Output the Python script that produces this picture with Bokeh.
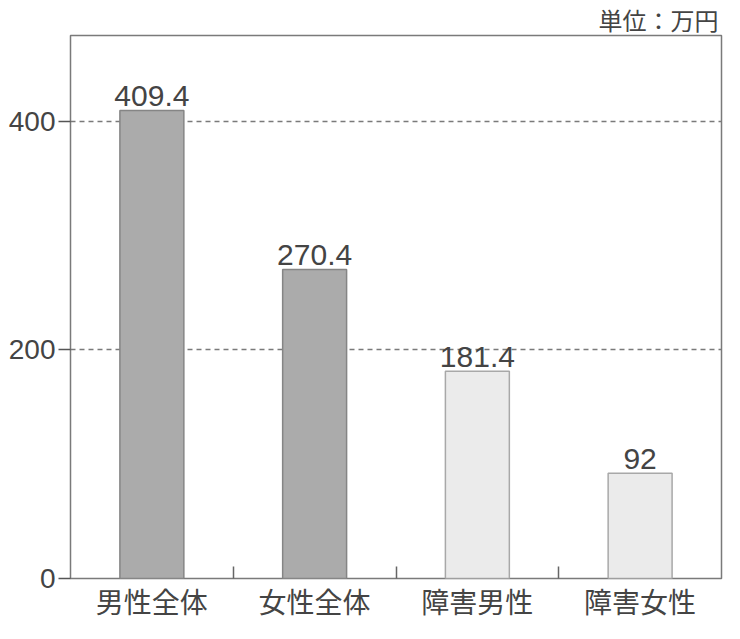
from bokeh.plotting import figure
from bokeh.models import ColumnDataSource, FixedTicker, Title, Range1d, LabelSet
from bokeh.core.properties import value
from bokeh.embed import file_html
from bokeh.resources import INLINE

categories = ["男性全体", "女性全体", "障害男性", "障害女性"]
values = [409.4, 270.4, 181.4, 92]
labels = ["409.4", "270.4", "181.4", "92"]
fills = ["#ababab", "#ababab", "#ebebeb", "#ebebeb"]
outlines = ["#858585", "#858585", "#a8a8a8", "#a8a8a8"]
y_ticks = [0, 200, 400]

xs = [i + 0.5 for i in range(len(categories))]
src = ColumnDataSource(dict(x=xs, top=values, fill=fills, line=outlines, lab=labels))

p = figure(width=724, height=623, output_backend="svg", toolbar_location=None,
           x_range=Range1d(0, len(categories)), y_range=Range1d(0, 475),
           min_border_left=70, min_border_right=3, min_border_bottom=0, min_border_top=0)

p.vbar(x="x", top="top", width=0.393, fill_color="fill", line_color="line", line_width=1.5, source=src)

p.add_layout(LabelSet(x="x", y="top", text="lab", source=src, text_align="center",
                      text_baseline="alphabetic", y_offset=4, text_font_size="30px",
                      text_color="#444444", text_font=value("Liberation Sans")))

p.outline_line_color = "#7a7a7a"
p.outline_line_width = 1.5
p.background_fill_color = "white"
p.border_fill_color = "white"

p.xgrid.visible = False
p.ygrid.ticker = FixedTicker(ticks=[200, 400])
p.ygrid.grid_line_color = "#7a7a7a"
p.ygrid.grid_line_dash = "5 4"
p.ygrid.grid_line_width = 1.4

p.yaxis.ticker = FixedTicker(ticks=y_ticks)
p.yaxis.axis_line_color = None
p.yaxis.major_tick_line_color = "#555555"
p.yaxis.major_tick_line_width = 1.5
p.yaxis.major_tick_out = 12
p.yaxis.major_tick_in = 0
p.yaxis.minor_tick_line_color = None
p.yaxis.major_label_standoff = 3
p.yaxis.major_label_text_font_size = "28px"
p.yaxis.major_label_text_color = "#444444"
p.yaxis.major_label_text_font = "Liberation Sans"

p.xaxis.ticker = FixedTicker(ticks=xs, minor_ticks=[1, 2, 3])
p.xaxis.major_label_overrides = {x: c for x, c in zip(xs, categories)}
p.xaxis.axis_line_color = None
p.xaxis.major_tick_line_color = None
p.xaxis.minor_tick_line_color = "#666666"
p.xaxis.minor_tick_line_width = 1.5
p.xaxis.minor_tick_in = 12
p.xaxis.minor_tick_out = 0
p.xaxis.major_label_standoff = -4
p.xaxis.major_label_text_font_size = "28px"
p.xaxis.major_label_text_color = "#444444"
p.xaxis.major_label_text_font = "Noto Sans CJK JP"

t = Title(text="単位：万円", align="right", text_font_size="24px", text_font_style="normal",
          text_color="#444444", text_font="Noto Sans CJK JP", offset=3, standoff=-2)
p.add_layout(t, "above")

open("out.html", "w").write(file_html(p, INLINE))
